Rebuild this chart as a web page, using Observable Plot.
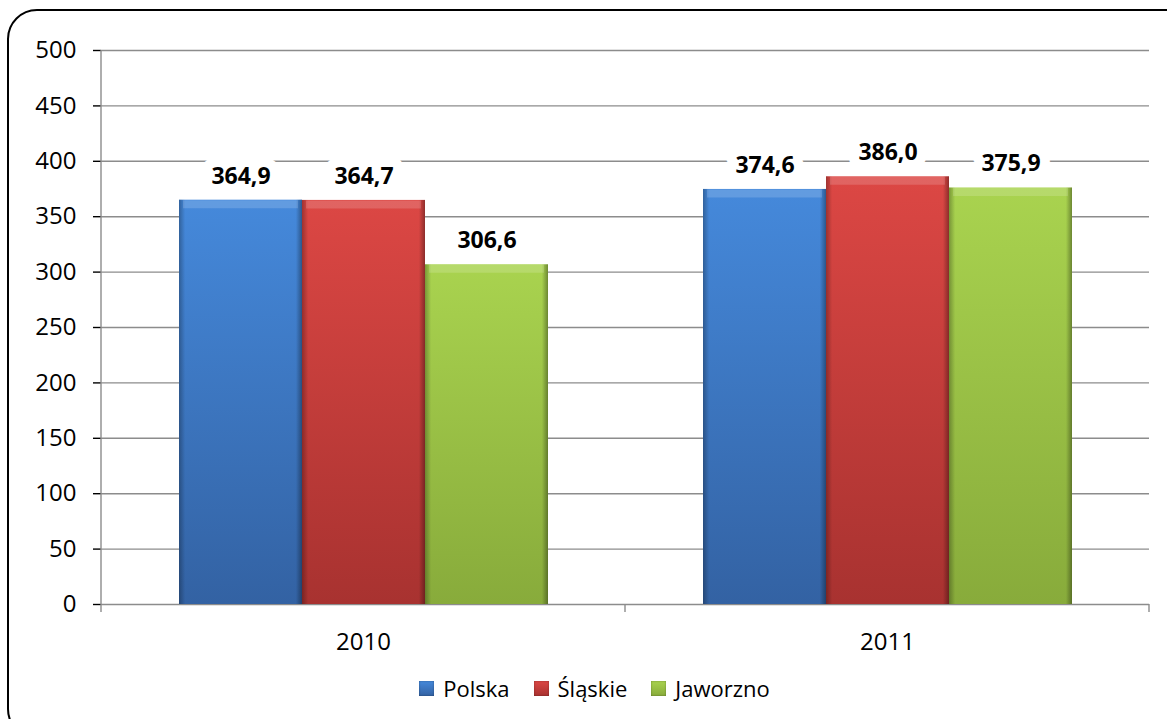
<!DOCTYPE html>
<html>
<head>
<meta charset="utf-8">
<script src="https://cdn.jsdelivr.net/npm/d3@7"></script>
<script src="https://cdn.jsdelivr.net/npm/@observablehq/plot@0.6"></script>
<style>
  html, body { margin: 0; padding: 0; background: #fff; overflow: hidden; }
  #wrap { position: relative; width: 1167px; height: 719px; overflow: hidden; font-family: "Open Sans", sans-serif; }
  #frame { position: absolute; left: 7px; top: 9px; width: 1200px; height: 730px; border: 2px solid #000; border-radius: 30px; box-sizing: border-box; pointer-events: none; }
  #chart { position: absolute; left: 0; top: 0; }
  #legend { position: absolute; left: 0; top: 665px; width: 1167px; height: 46px; display: flex; justify-content: center; align-items: center; padding-left: 22px; box-sizing: border-box; font-size: 22px; color: #000; }
  .item { display: flex; align-items: center; margin-right: 24px; }
  .item:last-child { margin-right: 0; }
  .sw { width: 15px; height: 15px; margin-right: 9px; box-shadow: inset 0 0 2px rgba(0,0,0,0.4); }
</style>
</head>
<body>
<div id="wrap">
  <div id="chart"></div>
  <div id="legend"></div>
  <div id="frame"></div>
</div>
<script>
const years = ["2010", "2011"];
const series = ["Polska", "Śląskie", "Jaworzno"];
const polska = [364.9, 374.6];
const slaskie = [364.7, 386.0];
const jaworzno = [306.6, 375.9];
const yTicks = [0, 50, 100, 150, 200, 250, 300, 350, 400, 450, 500];
const colorsTop = ["#4589db", "#dc4744", "#a9d34f"];
const colorsBottom = ["#3362a3", "#a83230", "#88ab3b"];
const gradIds = ["gPolska", "gSlaskie", "gJaworzno"];

const values = [polska, slaskie, jaworzno];
const data = [];
years.forEach((yr, i) => {
  series.forEach((s, j) => {
    data.push({year: yr, series: s, value: values[j][i], grad: `url(#${gradIds[j]})`});
  });
});

const fmt = v => v.toFixed(1).replace(".", ",");

const plot = Plot.plot({
  width: 1167,
  height: 665,
  marginLeft: 100,
  marginRight: 18,
  marginTop: 50,
  marginBottom: 61,
  style: {fontFamily: "'Open Sans', sans-serif", fontSize: "24px", color: "#000", background: "transparent", overflow: "visible"},
  fx: {domain: years, padding: 0, label: null, tickSize: 0, tickPadding: 28},
  x: {domain: series, paddingInner: 0, paddingOuter: 0.63, axis: null},
  y: {domain: [0, 500], ticks: yTicks, tickSize: 8, tickPadding: 17, label: null, tickFormat: d => String(d)},
  marks: [
    Plot.ruleY(yTicks, {stroke: "#8c8c8c", strokeWidth: 1.4}),
    Plot.barY(data, {fx: "year", x: "series", y: "value", fill: d => d.grad}),
    Plot.barY(data, {fx: "year", x: "series", y: "value", fill: "url(#edge)"}),
    Plot.tickY(data, {fx: "year", x: "series", y: "value", stroke: "#ffffff", strokeOpacity: 0.16, strokeWidth: 8, dy: 4, insetLeft: 4, insetRight: 4}),
    Plot.text(data, {fx: "year", x: "series", y: "value", text: d => fmt(d.value), dy: -24, fontWeight: "bold", fontSize: 23, fill: "#000", stroke: "#fff", strokeWidth: 20, paintOrder: "stroke"})
  ]
});

// gradient definitions
const svg = d3.select(plot);
const defs = svg.insert("defs", ":first-child");
gradIds.forEach((id, j) => {
  const g = defs.append("linearGradient").attr("id", id).attr("x1", 0).attr("y1", 0).attr("x2", 0).attr("y2", 1);
  g.append("stop").attr("offset", "0%").attr("stop-color", colorsTop[j]);
  g.append("stop").attr("offset", "100%").attr("stop-color", colorsBottom[j]);
});
const e = defs.append("linearGradient").attr("id", "edge").attr("x1", 0).attr("y1", 0).attr("x2", 1).attr("y2", 0);
[["0%", 0.28], ["5%", 0.0], ["95%", 0.0], ["100%", 0.35]].forEach(([o, a]) => {
  e.append("stop").attr("offset", o).attr("stop-color", "#000").attr("stop-opacity", a);
});

// axis styling
svg.selectAll("g[aria-label='y-axis tick']").attr("stroke", "#8c8c8c").attr("stroke-width", 1.4);
svg.selectAll("g[aria-label='y-axis tick label'], g[aria-label='fx-axis tick label']").attr("font-size", 24);

// axis lines and category ticks derived from scales
const fx = plot.scale("fx");
const ys = plot.scale("y");
const ax = svg.append("g").attr("stroke", "#8c8c8c").attr("stroke-width", 1.4);
const x0 = fx.apply(years[0]);
ax.append("line").attr("x1", x0).attr("x2", x0).attr("y1", ys.apply(500)).attr("y2", ys.apply(0) + 8);
years.forEach(yr => {
  const xr = fx.apply(yr) + fx.bandwidth;
  ax.append("line").attr("x1", xr).attr("x2", xr).attr("y1", ys.apply(0)).attr("y2", ys.apply(0) + 8);
});

document.getElementById("chart").appendChild(plot);

// legend
const legend = document.getElementById("legend");
series.forEach((s, j) => {
  const item = document.createElement("div");
  item.className = "item";
  const sw = document.createElement("div");
  sw.className = "sw";
  sw.style.background = `linear-gradient(${colorsTop[j]}, ${colorsBottom[j]})`;
  const t = document.createElement("span");
  t.textContent = s;
  item.appendChild(sw);
  item.appendChild(t);
  legend.appendChild(item);
});
</script>
</body>
</html>
